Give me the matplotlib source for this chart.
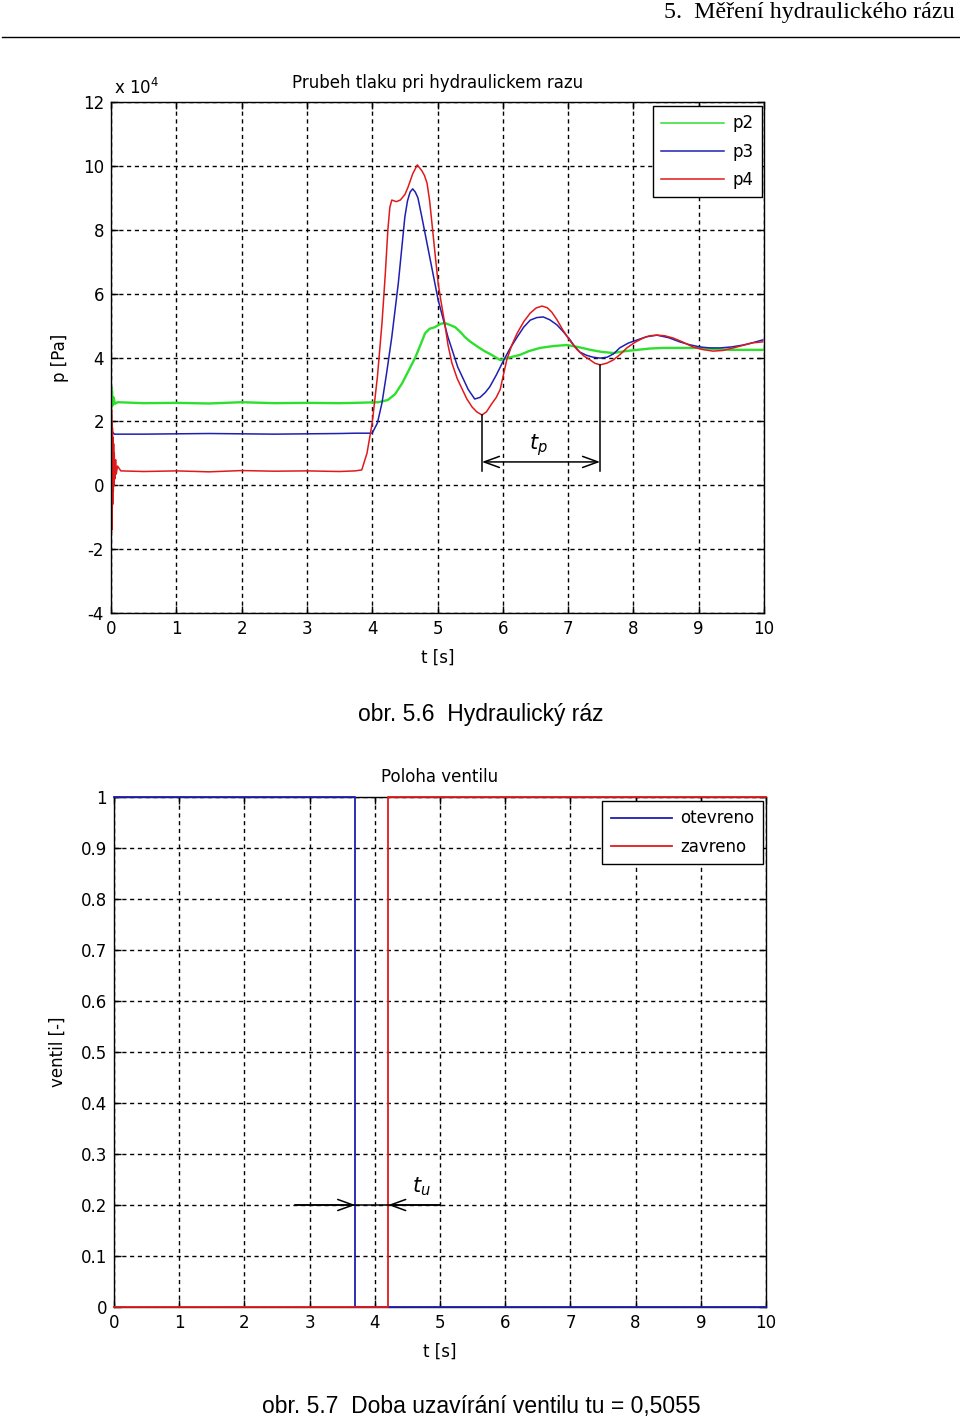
import matplotlib
matplotlib.use("Agg")
import matplotlib.pyplot as plt
from matplotlib.lines import Line2D

# ---------------- data (pressure in units of 1e4 Pa) ----------------
t_p2 = [0.0, 0.004, 0.008, 0.015, 0.025, 0.04, 0.06, 0.1, 0.5, 1.0, 1.5, 2.0, 2.5, 3.0, 3.5,
        3.74, 4.10, 4.24, 4.35, 4.46, 4.56, 4.66, 4.74, 4.81, 4.88, 4.96, 5.04, 5.11, 5.19,
        5.27, 5.35, 5.42, 5.50, 5.62, 5.72, 5.83, 5.96, 6.10, 6.26, 6.40, 6.57, 6.78, 6.98,
        7.15, 7.34, 7.50, 7.69, 7.88, 8.06, 8.25, 8.45, 8.70, 8.97, 9.22, 9.48, 9.74, 9.98]
p2 = [2.55, 3.08, 2.45, 2.95, 2.5, 2.75, 2.55, 2.6, 2.57, 2.58, 2.56, 2.6, 2.57, 2.58, 2.57,
      2.58, 2.6, 2.67, 2.85, 3.2, 3.6, 4.0, 4.4, 4.76, 4.9, 4.95, 5.05, 5.08, 5.02,
      4.95, 4.8, 4.64, 4.5, 4.33, 4.2, 4.08, 3.92, 4.0, 4.08, 4.2, 4.3, 4.36, 4.39,
      4.33, 4.24, 4.18, 4.14, 4.2, 4.24, 4.28, 4.3, 4.3, 4.3, 4.27, 4.24, 4.24, 4.24]

t_p3 = [0.0, 0.004, 0.01, 0.02, 0.05, 0.5, 1.5, 2.5, 3.5, 3.74, 4.00, 4.08, 4.15, 4.22, 4.30,
        4.40, 4.50, 4.54, 4.58, 4.62, 4.66, 4.70, 4.76, 4.89, 5.01, 5.16, 5.31, 5.47, 5.57,
        5.65, 5.73, 5.80, 5.90, 6.00, 6.11, 6.22, 6.32, 6.42, 6.52, 6.62, 6.72, 6.83, 6.93,
        7.03, 7.10, 7.18, 7.28, 7.38, 7.49, 7.60, 7.70, 7.79, 7.92, 8.06, 8.20, 8.36, 8.54,
        8.71, 8.86, 9.02, 9.17, 9.33, 9.50, 9.68, 9.84, 9.98]
p3 = [1.6, 1.75, 1.5, 1.68, 1.6, 1.6, 1.62, 1.6, 1.62, 1.63, 1.63, 1.95, 2.58, 3.5, 4.64,
      6.33, 8.4, 8.9, 9.18, 9.28, 9.18, 9.0, 8.4, 7.05, 5.8, 4.64, 3.7, 3.0, 2.7,
      2.75, 2.9, 3.08, 3.45, 3.86, 4.28, 4.64, 4.95, 5.17, 5.25, 5.27, 5.18, 5.02, 4.8,
      4.55, 4.35, 4.17, 4.07, 4.01, 3.98, 4.01, 4.12, 4.3, 4.45, 4.55, 4.65, 4.70, 4.62,
      4.49, 4.4, 4.33, 4.3, 4.3, 4.33, 4.39, 4.47, 4.55]

t_p4 = [0.0, 0.003, 0.005, 0.008, 0.011, 0.014, 0.018, 0.022, 0.026, 0.03, 0.035, 0.04,
        0.045, 0.05, 0.06, 0.07, 0.08, 0.1, 0.15,
        0.5, 1.0, 1.5, 2.0, 2.5, 3.0, 3.5, 3.74, 3.84, 3.92, 4.00, 4.08, 4.15, 4.20, 4.24,
        4.27, 4.30, 4.37, 4.43, 4.50, 4.55, 4.62, 4.69, 4.76, 4.80, 4.84, 4.88, 4.93, 4.97,
        5.01, 5.05, 5.11, 5.16, 5.22, 5.30, 5.38, 5.45, 5.53, 5.60, 5.68, 5.75, 5.83, 5.90,
        5.96, 6.06, 6.14, 6.22, 6.32, 6.42, 6.51, 6.60, 6.68, 6.75, 6.83, 6.92, 7.03, 7.14,
        7.24, 7.34, 7.41, 7.49, 7.59, 7.69, 7.80, 7.90, 8.02, 8.15, 8.25, 8.36, 8.48, 8.61,
        8.76, 8.91, 9.06, 9.22, 9.37, 9.53, 9.68, 9.83, 9.98]
p4 = [0.4, 6.0, -1.5, 2.35, -1.4, 2.0, -1.0, 1.8, -0.6, 1.5, -0.2, 1.3,
      0.0, 1.0, 0.2, 0.8, 0.35, 0.6, 0.45,
      0.43, 0.45, 0.42, 0.46, 0.44, 0.45, 0.43, 0.45, 0.48, 1.0, 1.95, 3.4, 5.08, 6.6, 8.0,
      8.7, 8.93, 8.88, 8.93, 9.1, 9.34, 9.75, 10.03, 9.85, 9.7, 9.46, 8.9, 7.9, 7.1,
      6.33, 5.8, 5.08, 4.4, 3.83, 3.35, 3.0, 2.7, 2.45, 2.3, 2.2, 2.3, 2.55, 2.75,
      3.0, 3.92, 4.4, 4.76, 5.12, 5.39, 5.55, 5.61, 5.56, 5.42, 5.18, 4.86, 4.52, 4.24,
      4.05, 3.92, 3.82, 3.77, 3.82, 3.92, 4.1, 4.3, 4.47, 4.61, 4.68, 4.70, 4.68, 4.61,
      4.48, 4.33, 4.25, 4.2, 4.22, 4.3, 4.38, 4.46, 4.49]

tp_start, tp_end = 5.68, 7.49

# valve position
t_open = [0.0, 3.70, 3.70, 10.0]
v_open = [1, 1, 0, 0]
t_closed = [0.0, 4.2055, 4.2055, 10.0]
v_closed = [0, 0, 1, 1]

top_xticks = list(range(0, 11))
top_yticks = list(range(-4, 13, 2))
bot_yticks = [round(0.1 * i, 1) for i in range(11)]
bot_ylabels = ["0", "0.1", "0.2", "0.3", "0.4", "0.5", "0.6", "0.7", "0.8", "0.9", "1"]

# ---------------- figure ----------------
W, H = 960, 1419
plt.rcParams['font.family'] = ['DejaVu Sans']
plt.rcParams['axes.unicode_minus'] = False
fig = plt.figure(figsize=(W / 100, H / 100), dpi=100)

GREEN = '#2ee02e'
BLUE = '#1f1fb0'
RED = '#e01a1a'
grid_style = dict(color='black', linestyle=(0, (3, 2.6)), linewidth=1.0)


def style_axes(ax):
    ax.tick_params(direction='in', length=5, width=1, top=True, right=True,
                   labelsize=12, pad=5)
    for s in ax.spines.values():
        s.set_linewidth(1.0)
        s.set_color('black')
    ax.grid(True, **grid_style)
    ax.set_axisbelow(True)


def ax_rect(l, t, r, b):
    return [l / W, 1 - b / H, (r - l) / W, (b - t) / H]


# ---- top chart ----
ax1 = fig.add_axes(ax_rect(111, 102, 764, 613))
ax1.plot(t_p2, p2, color=GREEN, lw=1.7, label='p2')
ax1.plot(t_p3, p3, color=BLUE, lw=1.1, label='p3')
ax1.plot(t_p4, p4, color=RED, lw=1.1, label='p4')
ax1.set_xlim(0, 10)
ax1.set_ylim(-4, 12)
ax1.set_xticks(top_xticks)
ax1.set_yticks(top_yticks)
style_axes(ax1)
ax1.set_title('Prubeh tlaku pri hydraulickem razu', fontsize=12, pad=10)
ax1.set_xlabel('t [s]', fontsize=12, labelpad=8)
ax1.set_ylabel('p [Pa]', fontsize=12, labelpad=10)
ax1.text(0.004, 1.016, r'x 10$^{4}$', transform=ax1.transAxes, fontsize=12,
         ha='left', va='baseline')
leg1 = ax1.legend(loc='upper right', bbox_to_anchor=(0.997, 0.992), borderaxespad=0,
                  fontsize=12, handlelength=3.8, handletextpad=0.5, labelspacing=0.62,
                  borderpad=0.5, fancybox=False, framealpha=1, edgecolor='black')
leg1.get_frame().set_linewidth(1.0)
for ln in leg1.get_lines():
    ln.set_linewidth(1.1)

# tp annotation
y_arrow = 0.73
ax1.plot([tp_start, tp_start], [2.2, 0.45], color='black', lw=1.1)
ax1.plot([tp_end, tp_end], [3.77, 0.45], color='black', lw=1.1)
ax1.annotate('', xy=(tp_start, y_arrow), xytext=(tp_end, y_arrow),
             arrowprops=dict(arrowstyle='<->,head_length=1.1,head_width=0.4',
                             color='black', lw=1.1, shrinkA=0, shrinkB=0,
                             mutation_scale=10))
ax1.text(6.55, 1.25, r'$t_p$', fontsize=15, ha='center', va='center')

# ---- bottom chart ----
ax2 = fig.add_axes(ax_rect(114, 797, 766, 1307))
ax2.plot(t_open, v_open, color=BLUE, lw=1.3, label='otevreno', clip_on=False, zorder=3)
ax2.plot(t_closed, v_closed, color=RED, lw=1.3, label='zavreno', clip_on=False, zorder=3)
ax2.set_xlim(0, 10)
ax2.set_ylim(0, 1)
ax2.set_xticks(top_xticks)
ax2.set_yticks(bot_yticks)
ax2.set_yticklabels(bot_ylabels)
style_axes(ax2)
ax2.set_title('Poloha ventilu', fontsize=12, pad=11)
ax2.set_xlabel('t [s]', fontsize=12, labelpad=8)
ax2.set_ylabel('ventil [-]', fontsize=12, labelpad=10)
leg2 = ax2.legend(loc='upper right', bbox_to_anchor=(0.9955, 0.992), borderaxespad=0,
                  fontsize=12, handlelength=3.7, handletextpad=0.5, labelspacing=0.62,
                  borderpad=0.5, fancybox=False, framealpha=1, edgecolor='black')
leg2.get_frame().set_linewidth(1.0)

# tu annotation
y_tu = 0.2
ax2.plot([2.78, 5.0], [y_tu, y_tu], color='black', lw=1.1, zorder=4)
ax2.annotate('', xy=(t_open[1], y_tu), xytext=(2.78, y_tu),
             arrowprops=dict(arrowstyle='->,head_length=1.1,head_width=0.4',
                             color='black', lw=1.1, shrinkA=0, shrinkB=0,
                             mutation_scale=10), zorder=4)
ax2.annotate('', xy=(t_closed[1], y_tu), xytext=(5.0, y_tu),
             arrowprops=dict(arrowstyle='->,head_length=1.1,head_width=0.4',
                             color='black', lw=1.1, shrinkA=0, shrinkB=0,
                             mutation_scale=10), zorder=4)
ax2.text(4.72, 0.235, r'$t_u$', fontsize=15, ha='center', va='center')

# ---- page decorations ----
fig.text(955 / W, 1 - 18 / H, '5.  Měření hydraulického rázu', ha='right', va='baseline',
         fontsize=17.3, family='Liberation Serif')
fig.add_artist(Line2D([2 / W, 1.0], [1 - 37 / H, 1 - 37 / H], color='black', lw=1.0))
fig.text(481 / W, 1 - 714 / H, 'obr. 5.6  Hydraulický ráz', ha='center', va='center',
         fontsize=16.5, family='Liberation Sans')
fig.text(481 / W, 1 - 1406 / H, 'obr. 5.7  Doba uzavírání ventilu tu = 0,5055', ha='center',
         va='center', fontsize=16.5, family='Liberation Sans')

fig.savefig('out.png', dpi=100, facecolor='white')
